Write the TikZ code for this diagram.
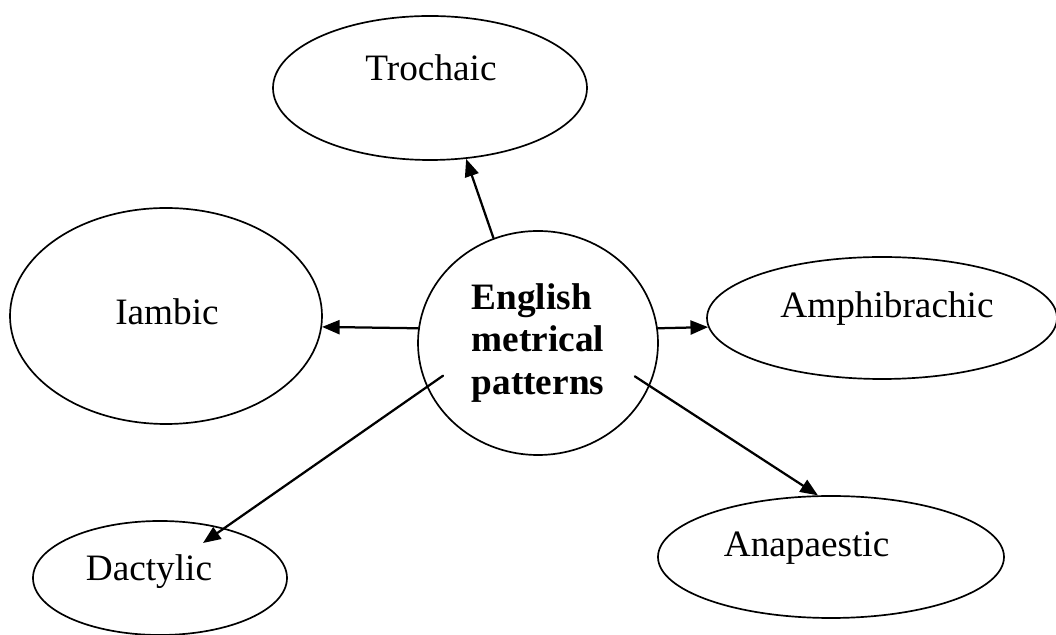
\documentclass[tikz,border=0pt]{standalone}
\usepackage{fontspec}
\setmainfont{Liberation Serif}
\usepackage{tikz}
\usetikzlibrary{shapes.geometric,arrows.meta}
\tikzset{
  bubble/.style={draw=black, ellipse, line width=1.2pt, inner sep=0pt},
  hub/.style={bubble, minimum width=6cm, minimum height=5.6cm,
    align=left, font=\fontsize{26.5}{30.5}\selectfont\bfseries},
  lab/.style={anchor=base, inner sep=0pt, font=\fontsize{26.5}{30.5}\selectfont},
  arr/.style={draw=black, line width=1.6pt, -{Triangle[length=12.5pt,width=10pt]}}
}

\begin{document}
\begin{tikzpicture}[line cap=round, line join=round]
  \useasboundingbox (0,0) rectangle (26.4,15.875);
  % centre and the five feet
  \node[hub] (centre) at (13.45,7.3) {English\\metrical\\patterns};
  \node[bubble, minimum width=7.85cm, minimum height=3.6cm] (trochaic) at (10.75,13.675) {};
  \node[bubble, minimum width=7.8cm, minimum height=5.4cm] (iambic) at (4.15,7.975) {};
  \node[bubble, minimum width=8.75cm, minimum height=3.05cm] (amphi) at (22.05,7.925) {};
  \node[bubble, minimum width=8.65cm, minimum height=3.05cm] (anapaest) at (20.775,1.95) {};
  \node[bubble, minimum width=6.35cm, minimum height=2.85cm] (dactylic) at (4.0,1.425) {};
  % names
  \node[lab] (trochaic-t) at ([shift={(0.025,0.175)}]trochaic.center) {Trochaic};
  \node[lab] (iambic-t) at ([shift={(0.025,-0.225)}]iambic.center) {Iambic};
  \node[lab] (amphi-t) at ([shift={(0.125,0)}]amphi.center) {Amphibrachic};
  \node[lab] (anapaest-t) at ([shift={(-0.61,0)}]anapaest.center) {Anapaestic};
  \node[lab] (dactylic-t) at ([shift={(-0.275,-0.075)}]dactylic.center) {Dactylic};
  % arrows
  \draw[arr] (centre.113) -- (trochaic.-63);
  \draw[arr] (centre.173) -- (iambic.-4);
  \draw[arr] (centre.7) -- (amphi.183);
  \draw[arr] ([shift={(199:2.51)}]centre.center) -- ([shift={(1.075,0.875)}]dactylic.center);
  \draw[arr] ([shift={(-19:2.56)}]centre.center) -- (anapaest.102);
\end{tikzpicture}
\end{document}
